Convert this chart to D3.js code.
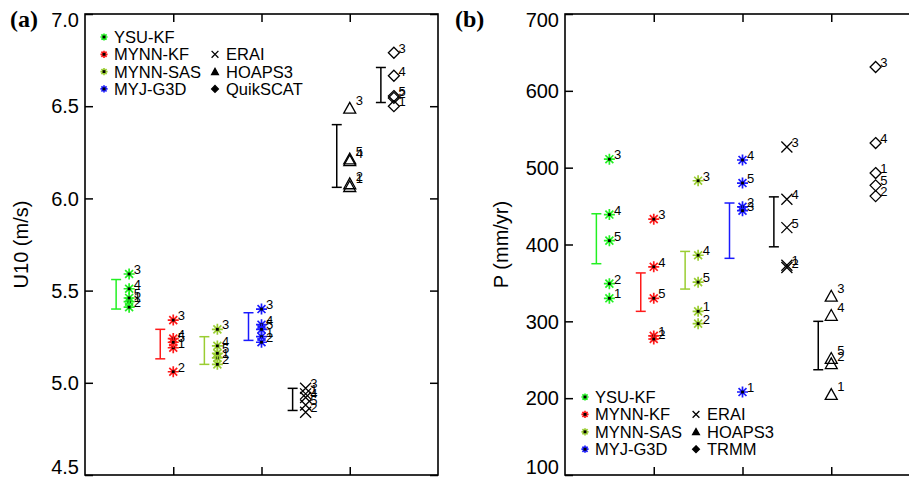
<!DOCTYPE html>
<html>
<head>
<meta charset="utf-8">
<script src="https://cdn.jsdelivr.net/npm/d3@7"></script>
<style>
  body { margin: 0; background: #fff; }
  text { font-family: "Liberation Sans", Arial, sans-serif; }
</style>
</head>
<body>
<svg id="chart" width="909" height="479"></svg>
<script>
// runs / members are labelled 1..5
const memberLabels = ["1", "2", "3", "4", "5"];

const groupsA = ["YSU-KF", "MYNN-KF", "MYNN-SAS", "MYJ-G3D", "ERAI", "HOAPS3", "QuikSCAT"];
const groupsB = ["YSU-KF", "MYNN-KF", "MYNN-SAS", "MYJ-G3D", "ERAI", "HOAPS3", "TRMM"];
const groupColors = ["#22f022", "#ff1a1a", "#9acd32", "#1a1aff", "#000", "#000", "#000"];
const groupShapes = ["star", "star", "star", "star", "x", "tri", "dia"];

// U10 (m/s), values for members 1..5
const u10Values = [
  [5.44, 5.41, 5.59, 5.51, 5.46],
  [5.19, 5.06, 5.34, 5.24, 5.22],
  [5.135, 5.10, 5.29, 5.20, 5.16],
  [5.25, 5.22, 5.40, 5.315, 5.29],
  [4.94, 4.84, 4.97, 4.92, 4.88],
  [6.065, 6.08, 6.49, 6.205, 6.215],
  [6.50, 6.545, 6.79, 6.665, 6.555]
];
const u10Low  = [5.40, 5.13, 5.10, 5.23, 4.85, 6.06, 6.52];
const u10High = [5.56, 5.29, 5.25, 5.38, 4.97, 6.40, 6.71];
const u10Ticks = [4.5, 5.0, 5.5, 6.0, 6.5, 7.0];

// P (mm/yr), values for members 1..5
const pValues = [
  [330, 349, 511, 439, 405],
  [281, 277, 433, 371, 330],
  [313, 297, 483, 386, 351],
  [208, 449, 444, 510, 480],
  [373, 370, 527, 459, 422],
  [205, 245, 333, 308, 252],
  [493, 463, 631, 532, 477]
];
const pLow  = [375, 313, 342, 382, 397, 237, null];
const pHigh = [440, 363, 391, 454, 462, 300, null];
const pTicks = [100, 200, 300, 400, 500, 600, 700];

const svg = d3.select("#chart");

function symbolPath(shape, r) {
  if (shape === "star") {
    const d = r * 0.72;
    return `M0,${-r}V${r}M${-r},0H${r}M${-d},${-d}L${d},${d}M${-d},${d}L${d},${-d}`;
  }
  if (shape === "x") return `M${-r},${-r}L${r},${r}M${-r},${r}L${r},${-r}`;
  if (shape === "tri") return `M${-r},${r * 0.85}L0,${-r * 0.95}L${r},${r * 0.85}Z`;
  return `M0,${-r}L${r},0L0,${r}L${-r},0Z`;
}

function drawMarker(g, shape, color, x, y, r, filled) {
  g.append("path")
    .attr("transform", `translate(${x},${y})`)
    .attr("d", symbolPath(shape, r))
    .attr("fill", filled && shape !== "star" ? color : "none")
    .attr("stroke", color)
    .attr("stroke-width", shape === "star" ? 1.7 : 1.3);
  if (shape === "star") {
    g.append("rect").attr("x", x - 1.4).attr("y", y - 1.4)
      .attr("width", 2.8).attr("height", 2.8).attr("fill", "#000");
  }
}

function panel(opt) {
  const g = svg.append("g");
  const x = d3.scaleLinear().domain([0, 8]).range([opt.left, opt.right]);
  const y = d3.scaleLinear().domain(opt.yDomain).range([opt.bottom, opt.top]);

  // frame
  g.append("rect")
    .attr("x", opt.left).attr("y", opt.top)
    .attr("width", opt.right - opt.left).attr("height", opt.bottom - opt.top)
    .attr("fill", "none").attr("stroke", "#000").attr("stroke-width", 1.6);

  // inward ticks on all four sides
  const left = g.append("g").attr("transform", `translate(${opt.left},0)`)
    .call(d3.axisRight(y).tickValues(opt.ticks).tickSize(8).tickFormat(""));
  const right = g.append("g").attr("transform", `translate(${opt.right},0)`)
    .call(d3.axisLeft(y).tickValues(opt.ticks).tickSize(8).tickFormat(""));
  const top = g.append("g").attr("transform", `translate(0,${opt.top})`)
    .call(d3.axisBottom(x).tickValues([2, 4, 6]).tickSize(8).tickFormat(""));
  const bot = g.append("g").attr("transform", `translate(0,${opt.bottom})`)
    .call(d3.axisTop(x).tickValues([2, 4, 6]).tickSize(8).tickFormat(""));
  [left, right, top, bot].forEach(a => {
    a.select(".domain").remove();
    a.selectAll("line").attr("stroke-width", 1.5);
  });

  // tick labels, end labels kept inside the frame height
  g.selectAll(".ylab").data(opt.ticks).enter().append("text")
    .attr("x", opt.left - 6)
    .attr("y", d => Math.max(opt.top + 13, Math.min(opt.bottom - 1, y(d) + 7.2)))
    .attr("text-anchor", "end").attr("font-size", 20)
    .text(opt.fmt);

  // y title
  g.append("text")
    .attr("transform", `translate(${opt.titleX},${(opt.top + opt.bottom) / 2}) rotate(-90)`)
    .attr("text-anchor", "middle").attr("font-size", 20)
    .text(opt.title);

  // panel letter
  g.append("text").attr("x", opt.letterX).attr("y", 27)
    .style("font-family", "'Liberation Serif', 'Times New Roman', serif")
    .attr("font-weight", "bold").attr("font-size", 24)
    .text(opt.letter);

  // error bars
  opt.low.forEach((lo, i) => {
    if (lo == null) return;
    const bx = x(i + 1) - 13;
    const col = groupColors[i];
    g.append("line").attr("x1", bx).attr("x2", bx)
      .attr("y1", y(lo)).attr("y2", y(opt.high[i]))
      .attr("stroke", col).attr("stroke-width", 1.5);
    [lo, opt.high[i]].forEach(v => {
      g.append("line").attr("x1", bx - 5).attr("x2", bx + 5)
        .attr("y1", y(v)).attr("y2", y(v))
        .attr("stroke", col).attr("stroke-width", 1.5);
    });
  });

  // members
  opt.values.forEach((vals, i) => {
    const shape = groupShapes[i];
    const r = shape === "tri" ? 6 : shape === "dia" ? 5.5 : 5.5;
    vals.forEach((v, j) => {
      const mx = x(i + 1), my = y(v);
      drawMarker(g, shape, groupColors[i], mx, my, r, false);
      g.append("text").attr("x", mx + (shape === "tri" ? 6 : 4.5)).attr("y", my - (shape === "tri" ? 3 : 0))
        .attr("font-size", 13).text(memberLabels[j]);
    });
  });

  // legend
  const L = opt.legend;
  for (let i = 0; i < 4; i++) {
    const ly = L.y + i * L.dy;
    drawMarker(g, "star", groupColors[i], L.x1, ly, 3.6, true);
    g.append("text").attr("x", L.x1 + 10).attr("y", ly + 6)
      .attr("font-size", 16.5).text(opt.groups[i]);
  }
  for (let i = 4; i < 7; i++) {
    const ly = L.y + (i - 3) * L.dy;
    drawMarker(g, groupShapes[i], "#000", L.x2, ly, 3.4, true);
    g.append("text").attr("x", L.x2 + 11).attr("y", ly + 6)
      .attr("font-size", 16.5).text(opt.groups[i]);
  }
}

panel({
  left: 85, right: 438, top: 14, bottom: 475,
  yDomain: [4.5, 7.0], ticks: u10Ticks, fmt: d3.format(".1f"),
  values: u10Values, low: u10Low, high: u10High, groups: groupsA,
  title: "U10 (m/s)", titleX: 28, letter: "(a)", letterX: 10,
  legend: { x1: 104, x2: 215, y: 37, dy: 17.3 }
});

panel({
  left: 565, right: 920, top: 14, bottom: 475,
  yDomain: [100, 700], ticks: pTicks, fmt: d3.format("d"),
  values: pValues, low: pLow, high: pHigh, groups: groupsB,
  title: "P (mm/yr)", titleX: 508, letter: "(b)", letterX: 455,
  legend: { x1: 585, x2: 696, y: 397, dy: 17.4 }
});
</script>
</body>
</html>
